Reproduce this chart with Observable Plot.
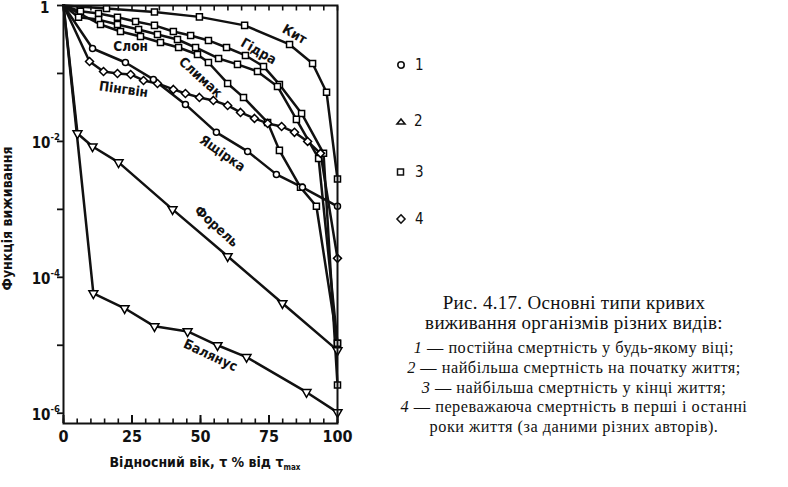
<!DOCTYPE html>
<html><head><meta charset="utf-8">
<script src="https://cdn.jsdelivr.net/npm/d3@7"></script>
<script src="https://cdn.jsdelivr.net/npm/@observablehq/plot@0.6"></script>
<style>
body{margin:0;background:#fff;}
#wrap{position:relative;width:788px;height:487px;overflow:hidden;background:#fff;}
#chart{position:absolute;left:0;top:0;}
.nar{font-family:"Liberation Sans Narrow","DejaVu Sans Condensed","Liberation Sans",Arial,sans-serif;}
.leg{position:absolute;font-size:15px;line-height:15px;color:#111;}
.leg svg{position:absolute;left:0;top:0;overflow:visible;}
#xtitle{position:absolute;left:85px;width:240px;top:454px;text-align:center;font-size:14px;font-weight:bold;color:#111;}
#xtitle sub{font-size:8px;vertical-align:-3px;}
.cap{position:absolute;left:374px;width:400px;text-align:center;font-family:"Liberation Serif","Times New Roman",serif;color:#111;}
.cap .t{font-size:19px;line-height:20px;letter-spacing:0.3px;}
.cap .l{font-size:16.3px;line-height:19.8px;letter-spacing:0.5px;}
.cap i{font-style:italic;}
</style></head>
<body>
<div id="wrap">
  <div id="chart"></div>
  <div id="xtitle" class="nar">Відносний вік, τ % від τ<sub>max</sub></div>
  <div id="legend"></div>
  <div class="cap" style="top:293px">
    <div class="t">Рис. 4.17. Основні типи кривих</div>
    <div class="t">виживання організмів різних видів:</div>
  </div>
  <div class="cap" style="top:338px">
    <div class="l"><i>1</i> — постійна смертність у будь-якому віці;</div>
    <div class="l"><i>2</i> — найбільша смертність на початку життя;</div>
    <div class="l"><i>3</i> — найбільша смертність у кінці життя;</div>
    <div class="l"><i>4</i> — переважаюча смертність в перші і останні</div>
    <div class="l">роки життя (за даними різних авторів).</div>
  </div>
</div>
<script>
// ---- data (relative age %, survival) ----
const kytX = [0, 15.7, 33.2, 49.6, 66.1, 82.5, 90.9, 96.0, 100];
const kytY = [1, 0.90, 0.80, 0.68, 0.51, 0.267, 0.140, 0.053, 0.0028];

const gidraX = [0, 6.2, 12.8, 19.7, 26.3, 33.2, 40.1, 46.4, 52.9, 59.5, 66.4, 73.0, 78.8, 86.9, 94.9, 100];
const gidraY = [1, 0.82, 0.76, 0.67, 0.58, 0.51, 0.415, 0.362, 0.306, 0.241, 0.184, 0.127, 0.069, 0.0258, 0.00667, 2.6e-6];

const slonX = [0, 5.5, 12.8, 19.7, 27.4, 34.3, 41.6, 48.2, 56.6, 63.5, 70.8, 78.1, 85.0, 93.1, 100];
const slonY = [1, 0.67, 0.62, 0.526, 0.444, 0.375, 0.316, 0.241, 0.166, 0.136, 0.107, 0.0644, 0.0211, 0.00562, 1.07e-5];

const slymakX = [0, 13.5, 20.8, 28.1, 35.4, 42.0, 48.9, 52.9, 59.9, 65.7, 74.5, 78.8, 86.5, 92.3, 100];
const slymakY = [1, 0.526, 0.415, 0.35, 0.286, 0.241, 0.19, 0.145, 0.0713, 0.0444, 0.019, 0.00738, 0.00211, 0.00111, 1.07e-5];

const pingvinX = [0, 9.5, 14.6, 19.7, 24.5, 29.2, 34.3, 40.1, 44.5, 49.6, 54.7, 59.9, 64.6, 69.7, 74.5, 79.6, 84.3, 89.1, 93.8, 100];
const pingvinY = [1, 0.15, 0.107, 0.1, 0.0966, 0.0789, 0.0713, 0.0582, 0.0508, 0.0444, 0.0401, 0.0338, 0.0267, 0.0218, 0.0184, 0.0166, 0.0136, 0.01, 0.00667, 0.00019];

const yashchirkaX = [0, 10.6, 22.6, 32.8, 44.5, 55.8, 67.2, 77.7, 87.2, 100];
const yashchirkaY = [1, 0.233, 0.145, 0.0817, 0.035, 0.0136, 0.00713, 0.00327, 0.00211, 0.00111];

const forelX = [0, 5.1, 10.6, 20.1, 39.8, 59.9, 79.9, 100];
const forelY = [1, 0.0131, 0.00843, 0.00491, 0.001, 2.04e-4, 4.15e-5, 8.4e-6];

const balanusX = [0, 10.9, 22.3, 33.2, 45.3, 56.2, 66.8, 88.7, 100];
const balanusY = [1, 5.8e-5, 3.5e-5, 1.9e-5, 1.6e-5, 1e-5, 6.7e-6, 2.04e-6, 1.03e-6];

// curve labels
const labelNames = ["Кит", "Гідра", "Слимак", "Слон", "Пінгвін", "Ящірка", "Форель", "Балянус"];
const labelX = [84.3, 71.2, 50, 24.5, 21.9, 58, 55.8, 53.6];
const labelY = [0.375, 0.211, 0.0873, 0.249, 0.0582, 0.00667, 5.6e-4, 7.1e-6];
const labelAngle = [30, 30, 42, 0, 8, 35, 42, 25];

// axis ticks
const xMajor = [0, 25, 50, 75, 100];
const xMinor = d3.range(0, 101, 5);
const yTicks = [1, 1e-1, 1e-2, 1e-3, 1e-4, 1e-5, 1e-6];
const yLabelValues = [1e-2, 1e-4, 1e-6];
const yLabelExp = ["-2", "-4", "-6"];

// legend
const legendKeys = ["1", "2", "3", "4"];

// ---- build ----
const triDown = {
  draw(ctx, size) {
    const a = Math.sqrt(4 * size / Math.sqrt(3));
    const h = a * Math.sqrt(3) / 2;
    ctx.moveTo(0, 2 * h / 3);
    ctx.lineTo(-a / 2, -h / 3);
    ctx.lineTo(a / 2, -h / 3);
    ctx.closePath();
  }
};
const series = [
  {name: "Кит", xs: kytX, ys: kytY, sym: "square"},
  {name: "Гідра", xs: gidraX, ys: gidraY, sym: "square"},
  {name: "Слон", xs: slonX, ys: slonY, sym: "square"},
  {name: "Слимак", xs: slymakX, ys: slymakY, sym: "square"},
  {name: "Пінгвін", xs: pingvinX, ys: pingvinY, sym: "diamond2"},
  {name: "Ящірка", xs: yashchirkaX, ys: yashchirkaY, sym: "circle"},
  {name: "Форель", xs: forelX, ys: forelY, sym: triDown},
  {name: "Балянус", xs: balanusX, ys: balanusY, sym: triDown}
];
const rows = series.flatMap(s => s.xs.map((x, i) => ({series: s.name, x, y: s.ys[i], sym: s.sym})));
const labels = labelNames.map((t, i) => ({t, x: labelX[i], y: labelY[i], a: labelAngle[i]}));
const font = '"Liberation Sans Narrow","DejaVu Sans Condensed","Liberation Sans",Arial,sans-serif';

const symMarks = [["square", 3.4], ["diamond2", 3.6], ["circle", 3.0], [triDown, 3.3]].map(([sym, r]) =>
  Plot.dot(rows.filter(d => d.sym === sym && d.x > 0), {x: "x", y: "y", symbol: sym, r, fill: "white", stroke: "black", strokeWidth: 1.5})
);

const chart = Plot.plot({
  width: 788, height: 487,
  marginLeft: 63, marginRight: 451, marginTop: 5, marginBottom: 64,
  style: {fontFamily: font, color: "#111", background: "white"},
  x: {domain: [0, 100], axis: null},
  y: {type: "log", domain: [7.06e-7, 1], axis: null},
  marks: [
    Plot.axisX({anchor: "bottom", ticks: xMinor, tickSize: -4.5, fill: "none", label: null, stroke: "#111", strokeWidth: 1.6}),
    Plot.axisX({anchor: "bottom", ticks: xMajor, tickSize: -8, fill: "none", label: null, stroke: "#111", strokeWidth: 2}),
    Plot.axisX({anchor: "top", ticks: xMinor, tickSize: -4.5, fill: "none", label: null, stroke: "#111", strokeWidth: 1.6}),
    Plot.axisX({anchor: "bottom", ticks: xMajor, tickSize: 0, stroke: "none", label: null, tickPadding: 7, fontSize: 16, fontWeight: "bold", fill: "#111"}),
    Plot.axisY({anchor: "left", ticks: yTicks, tickSize: 6, fill: "none", label: null, stroke: "#111", strokeWidth: 1.8}),
    Plot.text([1], {y: d => d, text: () => "1", frameAnchor: "left", dx: -14, dy: 3, textAnchor: "end", fontSize: 15, fontWeight: "bold", fill: "#111"}),
    Plot.text(yLabelValues, {y: d => d, text: () => "10", frameAnchor: "left", dx: -13, dy: 2, textAnchor: "end", fontSize: 15, fontWeight: "bold", fill: "#111"}),
    Plot.text(yLabelValues, {y: d => d, text: (d, i) => yLabelExp[i], frameAnchor: "left", dx: -13, dy: -4, textAnchor: "start", fontSize: 9.5, fontWeight: "bold", fill: "#111"}),
    Plot.text(["Функція виживання"], {frameAnchor: "left", dx: -56, dy: 4, rotate: -90, textAnchor: "middle", fontSize: 14, fontWeight: "bold", fill: "#111"}),
    Plot.line(rows, {x: "x", y: "y", z: "series", stroke: "#111", strokeWidth: 2.5, strokeLinejoin: "round"}),
    ...symMarks,
    Plot.text(labels, {x: "x", y: "y", text: "t", rotate: "a", fontSize: 13.5, fontWeight: "bold", fill: "#111"}),
    Plot.frame({stroke: "#111", strokeWidth: 2})
  ]
});
document.getElementById("chart").appendChild(chart);

// legend (HTML, beside chart)
const legendTop = [58, 114, 165, 212];
const legendShapes = [
  '<circle cx="5" cy="7" r="3.2" fill="white" stroke="#111" stroke-width="1.6"/>',
  '<path d="M1,10 L9,10 L5,5 Z" fill="white" stroke="#111" stroke-width="1.6"/>',
  '<rect x="1.5" y="4" width="6" height="6" fill="white" stroke="#111" stroke-width="1.5"/>',
  '<path d="M5,2.8 L9,7 L5,11.2 L1,7 Z" fill="white" stroke="#111" stroke-width="1.6"/>'
];
const leg = document.getElementById("legend");
legendKeys.forEach((k, i) => {
  const d = document.createElement("div");
  d.className = "leg nar";
  d.style.left = "396px";
  d.style.top = legendTop[i] + "px";
  d.style.width = "40px";
  d.style.height = "16px";
  d.innerHTML = `<svg width="12" height="14">${legendShapes[i]}</svg><span style="position:absolute;left:${i === 1 ? 18 : 19}px;top:0">${k}</span>`;
  leg.appendChild(d);
});
</script>
</body></html>
